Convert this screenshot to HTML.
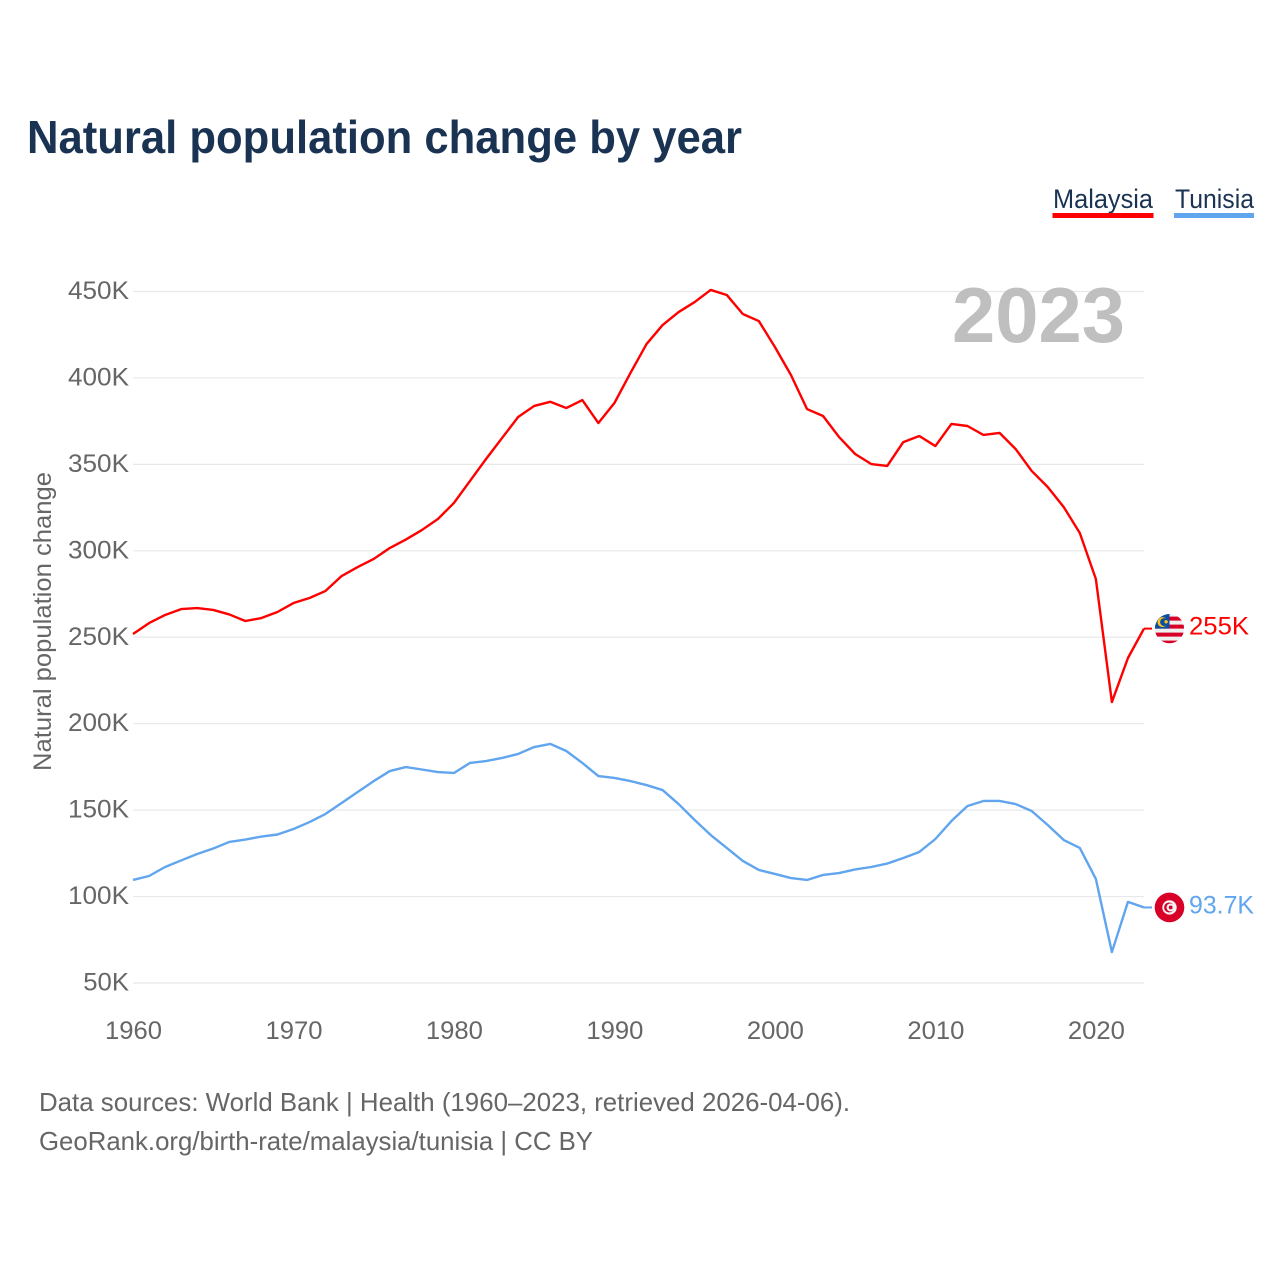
<!DOCTYPE html>
<html lang="en">
<head>
<meta charset="utf-8">
<title>Natural population change by year</title>
<style>
  html, body { margin: 0; padding: 0; background: #fff; }
  svg { display: block; font-family: "Liberation Sans", sans-serif; }
</style>
</head>
<body>
<svg id="chart" xmlns="http://www.w3.org/2000/svg" width="1280" height="1280" viewBox="0 0 1280 1280">
  <rect x="0" y="0" width="1280" height="1280" fill="#ffffff"/>
  <text x="27" y="153" font-size="46" font-weight="bold" fill="#1a3353" textLength="715" lengthAdjust="spacingAndGlyphs">Natural population change by year</text>

  <g>
    <text x="1053" y="208" font-size="27" fill="#1a3353" textLength="100" lengthAdjust="spacingAndGlyphs">Malaysia</text>
    <rect x="1052.5" y="213" width="101" height="5" fill="#ff0000"/>
  </g>
  <g>
    <text x="1175" y="208" font-size="27" fill="#1a3353" textLength="79" lengthAdjust="spacingAndGlyphs">Tunisia</text>
    <rect x="1174" y="213" width="80" height="5" fill="#60a5ee"/>
  </g>

  <g id="grid"></g>
  <g id="y-ticks"></g>
  <g id="x-ticks"></g>

  <text transform="translate(51 771) rotate(-90)" font-size="25" fill="#666666" textLength="299" lengthAdjust="spacingAndGlyphs">Natural population change</text>
  <text id="year-label" x="952" y="342" font-size="78" font-weight="bold" fill="#bfbfbf" textLength="173" lengthAdjust="spacingAndGlyphs"></text>

  <path id="line-malaysia" fill="none" stroke="#ff0000" stroke-width="2.4" stroke-linejoin="round"/>
  <path id="line-tunisia" fill="none" stroke="#60a5ee" stroke-width="2.4" stroke-linejoin="round"/>
  <line id="connector-malaysia" x1="1144" x2="1152" stroke="#ff0000" stroke-width="2"/>
  <line id="connector-tunisia" x1="1144" x2="1152" stroke="#60a5ee" stroke-width="2"/>

  <defs>
    <clipPath id="flag-clip"><circle cx="0" cy="0" r="14.6"/></clipPath>
  </defs>

  <g id="flag-malaysia">
    <g clip-path="url(#flag-clip)">
      <rect x="-15" y="-15" width="30" height="30" fill="#f0f0f0"/>
      <rect x="-15" y="-12" width="30" height="4" fill="#d80027"/>
      <rect x="-15" y="-4" width="30" height="4" fill="#d80027"/>
      <rect x="-15" y="4" width="30" height="4" fill="#d80027"/>
      <rect x="-15" y="12" width="30" height="4" fill="#d80027"/>
      <rect x="-15" y="-15" width="15" height="15" fill="#0b4ea2"/>
      <circle cx="-7" cy="-6.5" r="5" fill="#ffc61a"/>
      <circle cx="-5.4" cy="-6.5" r="4" fill="#0b4ea2"/>
      <circle cx="-3.4" cy="-6.8" r="1.7" fill="#ffc61a"/>
    </g>
  </g>
  <g id="flag-tunisia">
    <circle cx="0" cy="0" r="14.8" fill="#d80027"/>
    <circle cx="0" cy="0" r="7.2" fill="#f4f4f4"/>
    <circle cx="-0.4" cy="0" r="5" fill="#d80027"/>
    <circle cx="1" cy="0" r="4" fill="#f4f4f4"/>
    <circle cx="1.2" cy="0" r="1.9" fill="#d80027"/>
  </g>

  <text id="end-label-malaysia" x="1189" font-size="25" fill="#ff0000" textLength="60" lengthAdjust="spacingAndGlyphs"></text>
  <text id="end-label-tunisia" x="1189" font-size="25" fill="#60a5ee" textLength="65" lengthAdjust="spacingAndGlyphs"></text>

  <text x="39" y="1111" font-size="26" fill="#666666" textLength="811" lengthAdjust="spacingAndGlyphs">Data sources: World Bank | Health (1960–2023, retrieved 2026-04-06).</text>
  <text x="39" y="1150" font-size="26" fill="#666666" textLength="554" lengthAdjust="spacingAndGlyphs">GeoRank.org/birth-rate/malaysia/tunisia | CC BY</text>
</svg>

<script>
const firstYear = 1960;
const lastYear = 2023;
const yTicks = [50, 100, 150, 200, 250, 300, 350, 400, 450];
const xTicks = [1960, 1970, 1980, 1990, 2000, 2010, 2020];
const malaysia = [251.9, 258.2, 262.9, 266.3, 266.9, 265.8, 263.2, 259.4, 261.1, 264.6,
  269.8, 272.7, 276.8, 285.4, 290.6, 295.3, 301.6, 306.5, 312, 318.4,
  327.7, 340.4, 353.1, 365.3, 377.4, 383.8, 386.2, 382.6, 387.2, 373.9,
  385.5, 402.9, 419.6, 430.6, 438.1, 443.9, 450.9, 448, 437, 432.9,
  417.9, 401.7, 382, 378, 365.8, 356, 350.2, 349.1, 362.9, 366.4,
  360.6, 373.4, 372.2, 367, 368.2, 358.9, 346.2, 336.9, 325.3, 310.3,
  283.7, 212.5, 238, 255];
const tunisia = [109.6, 111.9, 117.1, 120.9, 124.6, 127.8, 131.6, 133, 134.7, 135.9,
  139.1, 143.1, 147.8, 154.1, 160.5, 166.8, 172.6, 174.9, 173.5, 172,
  171.5, 177.3, 178.4, 180.2, 182.5, 186.5, 188.3, 184.2, 177.3, 169.7,
  168.6, 166.8, 164.5, 161.6, 153.5, 144.3, 135.6, 128.1, 120.6, 115.4,
  113.1, 110.7, 109.6, 112.5, 113.6, 115.7, 117.1, 119.1, 122.3, 125.8,
  133.3, 143.7, 152.4, 155.3, 155.3, 153.5, 149.5, 141.4, 132.7, 128.1,
  110.2, 67.9, 96.9, 93.7];

const SVG_NS = 'http://www.w3.org/2000/svg';
const plotLeft = 133;
const plotRight = 1144;
const yAt50 = 983;
const yAt450 = 291.5;

function xScale(year) {
  return plotLeft + (year - firstYear) * (plotRight - plotLeft) / (lastYear - firstYear);
}
function yScale(value) {
  return yAt50 + (value - 50) * (yAt450 - yAt50) / 400;
}
function linePath(values) {
  return values.map(function (v, i) {
    return (i === 0 ? 'M' : 'L') + xScale(firstYear + i).toFixed(2) + ' ' + yScale(v).toFixed(2);
  }).join(' ');
}
function formatValue(v) {
  return (v >= 100 ? String(Math.round(v)) : v.toFixed(1)) + 'K';
}

const gridGroup = document.getElementById('grid');
const yTickGroup = document.getElementById('y-ticks');
const xTickGroup = document.getElementById('x-ticks');

yTicks.forEach(function (t) {
  const line = document.createElementNS(SVG_NS, 'line');
  
  
  line.setAttribute('x1', plotLeft);
  line.setAttribute('x2', plotRight);
  line.setAttribute('y1', yScale(t));
  line.setAttribute('y2', yScale(t));
  line.setAttribute('stroke', '#e8e8e8');
  line.setAttribute('stroke-width', '1.2');
  gridGroup.appendChild(line);

  const label = document.createElementNS(SVG_NS, 'text');
  
  
  const s = t + 'K';
  label.textContent = s;
  label.setAttribute('x', 129 - s.length * 15.25);
  label.setAttribute('y', yScale(t) + 7.5);
  label.setAttribute('font-size', '25');
  label.setAttribute('fill', '#666666');
  label.setAttribute('textLength', s.length * 15.25);
  label.setAttribute('lengthAdjust', 'spacingAndGlyphs');
  yTickGroup.appendChild(label);
});

xTicks.forEach(function (t) {
  const label = document.createElementNS(SVG_NS, 'text');
  
  
  label.textContent = String(t);
  label.setAttribute('x', xScale(t) - 28);
  label.setAttribute('y', 1039);
  label.setAttribute('font-size', '25');
  label.setAttribute('fill', '#666666');
  label.setAttribute('textLength', '57');
  label.setAttribute('lengthAdjust', 'spacingAndGlyphs');
  xTickGroup.appendChild(label);
});

document.getElementById('line-malaysia').setAttribute('d', linePath(malaysia));
document.getElementById('line-tunisia').setAttribute('d', linePath(tunisia));
document.getElementById('year-label').textContent = String(lastYear);

function placeEnd(key, values) {
  const v = values[values.length - 1];
  const y = yScale(v);
  const connector = document.getElementById('connector-' + key);
  connector.setAttribute('y1', y);
  connector.setAttribute('y2', y);
  document.getElementById('flag-' + key).setAttribute('transform', 'translate(1169.5 ' + y + ')');
  const label = document.getElementById('end-label-' + key);
  label.textContent = formatValue(v);
  label.setAttribute('y', y + 6);
}
placeEnd('malaysia', malaysia);
placeEnd('tunisia', tunisia);
</script>
</body>
</html>
